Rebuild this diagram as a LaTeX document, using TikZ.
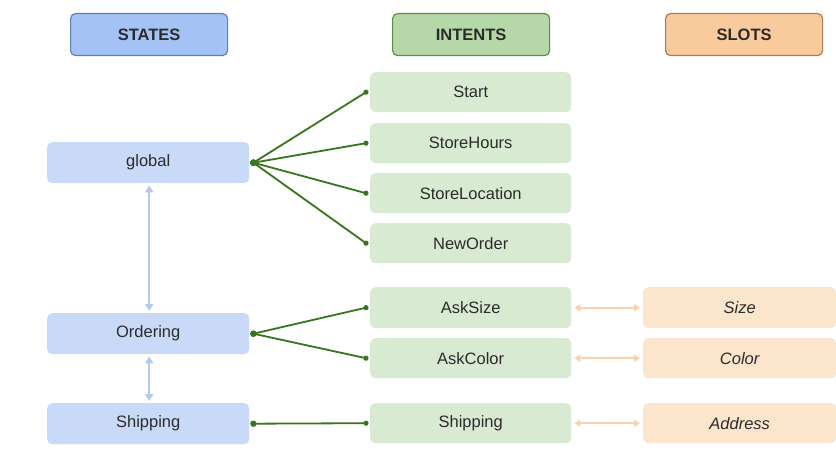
\documentclass[tikz,border=0pt]{standalone}
\usepackage{fontspec}
\setmainfont{Liberation Sans}
\usetikzlibrary{arrows.meta}
\definecolor{hdrblue}{HTML}{A4C2F4}
\definecolor{hdrblueedge}{HTML}{5B7FBF}
\definecolor{hdrgreen}{HTML}{B6D7A8}
\definecolor{hdrgreenedge}{HTML}{5E8F48}
\definecolor{hdrorange}{HTML}{F9CB9C}
\definecolor{hdrorangeedge}{HTML}{B07A4E}
\definecolor{statefill}{HTML}{C9DAF8}
\definecolor{intentfill}{HTML}{D9EAD3}
\definecolor{slotfill}{HTML}{FCE5CD}
\definecolor{linkgreen}{HTML}{38761D}
\definecolor{linkblue}{HTML}{B4C9F0}
\definecolor{linkorange}{HTML}{F8D2AE}
\definecolor{txt}{HTML}{2B2B2B}
\tikzset{
  box/.style={rounded corners=5pt, inner sep=0pt, text=txt,
    font=\fontsize{16.5}{19}\selectfont, anchor=north west},
  header/.style={box, draw, line width=1.2pt, font=\fontsize{16.5}{19}\selectfont\bfseries},
  statebox/.style={box, fill=statefill, minimum width=202pt, minimum height=41pt},
  intentbox/.style={box, fill=intentfill, minimum width=201pt, minimum height=40pt},
  slotbox/.style={box, fill=slotfill, minimum width=193pt, minimum height=41pt,
    font=\fontsize{16.5}{19}\selectfont\itshape},
  glink/.style={draw=linkgreen, line width=1.8pt},
  gdot/.style={fill=linkgreen},
  blink/.style={draw=linkblue, line width=1.8pt, {Triangle[length=7pt,width=8pt]}-{Triangle[length=7pt,width=8pt]}},
  olink/.style={draw=linkorange, line width=1.8pt, {Triangle[length=6pt,width=7pt]}-{Triangle[length=6pt,width=7pt]}},
}
\begin{document}
\begin{tikzpicture}[x=1pt,y=-1pt]
\useasboundingbox[fill=white] (0,0) rectangle (836,468);

% column headers
\node[header, fill=hdrblue, draw=hdrblueedge, minimum width=157pt, minimum height=42pt] (hstates) at (70,13) {STATES};
\node[header, fill=hdrgreen, draw=hdrgreenedge, minimum width=157pt, minimum height=42pt] (hintents) at (392,13) {INTENTS};
\node[header, fill=hdrorange, draw=hdrorangeedge, minimum width=157pt, minimum height=42pt] (hslots) at (665,13) {SLOTS};

% states
\node[statebox] (global) at (47,142) {global};
\node[statebox] (ordering) at (47,313) {Ordering};
\node[statebox] (shipstate) at (47,403) {Shipping};

% intents
\node[intentbox] (start) at (370,72) {Start};
\node[intentbox] (hours) at (370,123) {StoreHours};
\node[intentbox] (location) at (370,173) {StoreLocation};
\node[intentbox] (neworder) at (370,223) {NewOrder};
\node[intentbox, minimum height=41pt] (asksize) at (370,287) {AskSize};
\node[intentbox] (askcolor) at (370,338) {AskColor};
\node[intentbox] (shipintent) at (370,403) {Shipping};

% slots
\node[slotbox] (size) at (643,287) {Size};
\node[slotbox, minimum height=40pt] (color) at (643,338) {Color};
\node[slotbox, minimum height=40pt] (address) at (643,403) {Address};

% state transitions
\draw[blink] ([xshift=1pt,yshift=-2pt]global.south) -- ([xshift=1pt,yshift=2pt]ordering.north);
\draw[blink] ([xshift=1pt,yshift=-2pt]ordering.south) -- ([xshift=1pt,yshift=2pt]shipstate.north);

% intents available in each state
\foreach \src/\dst in {global/start, global/hours, global/location, global/neworder,
                       ordering/asksize, ordering/askcolor, shipstate/shipintent} {
  \draw[glink] ([xshift=4pt]\src.east) -- ([xshift=-4pt]\dst.west);
  \fill[gdot] ([xshift=4pt]\src.east) circle (3.2pt);
  \fill[gdot] ([xshift=-4pt]\dst.west) circle (2.6pt);
}

% slots filled by intents
\draw[olink] ([xshift=3pt]asksize.east) -- ([xshift=-3pt]size.west);
\draw[olink] ([xshift=3pt]askcolor.east) -- ([xshift=-3pt]color.west);
\draw[olink] ([xshift=3pt]shipintent.east) -- ([xshift=-3pt]address.west);
\end{tikzpicture}
\end{document}
